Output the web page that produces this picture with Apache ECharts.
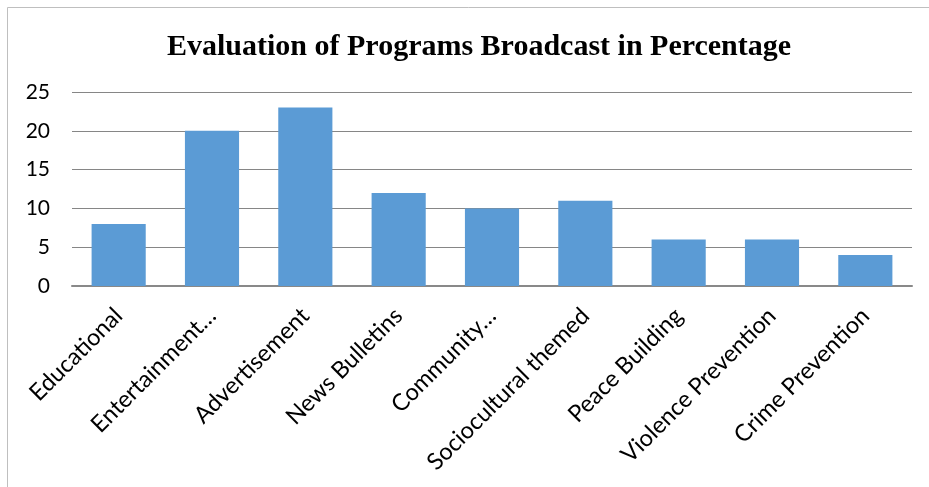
<!DOCTYPE html>
<html><head><meta charset="utf-8">
<script src="https://cdn.jsdelivr.net/npm/echarts@6/dist/echarts.min.js"></script>
<style>html,body{margin:0;padding:0;background:#fff}#c{width:929px;height:487px}</style>
</head><body><div id="c"></div>
<script>
const categories = ["Educational","Entertainment…","Advertisement","News Bulletins","Community…","Sociocultural themed","Peace Building","Violence Prevention","Crime Prevention"];
const values = [8,20,23,12,10,11,6,6,4];
const yTicks = [0,5,10,15,20,25];

const chart = echarts.init(document.getElementById('c'), null, {renderer:'canvas'});
chart.setOption({
  backgroundColor:'#fff',
  animation:false,
  title:{text:'Evaluation of Programs Broadcast in Percentage',left:162,top:27,
    textStyle:{fontFamily:'Liberation Serif',fontWeight:'bold',fontSize:30,color:'#000'}},
  graphic:[{type:'rect',shape:{x:7.5,y:7.5,width:940,height:500},style:{fill:'none',stroke:'#bfbfbf',lineWidth:1},silent:true}],
  grid:{left:72,right:17,top:92,bottom:201,containLabel:false},
  xAxis:{type:'category',data:categories,
    axisLine:{lineStyle:{color:'#898989',width:2}},
    axisTick:{show:false},
    axisLabel:{rotate:45,interval:0,margin:26,fontFamily:'Lato',fontSize:23.5,color:'#000'}},
  yAxis:{type:'value',min:yTicks[0],max:yTicks[yTicks.length-1],interval:5,
    axisLine:{show:false},axisTick:{show:false},
    splitLine:{lineStyle:{color:'#868686',width:1}},
    axisLabel:{margin:22,fontFamily:'Lato',fontSize:21,color:'#000'}},
  series:[{type:'bar',data:values,barWidth:'58%',itemStyle:{color:'#5B9BD5'}}]
});
</script></body></html>
